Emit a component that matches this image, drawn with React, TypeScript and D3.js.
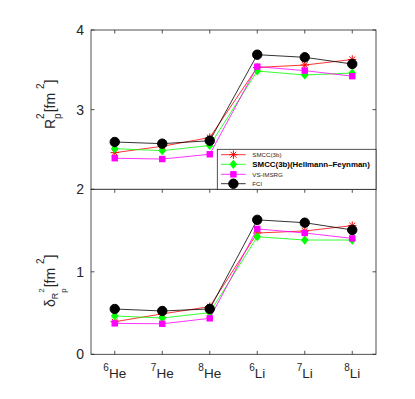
import React, { useEffect, useRef } from 'react';
import * as d3 from 'd3';

// nuclei on the x axis: mass number + element
const nuclei = [
  { a: '6', el: 'He' },
  { a: '7', el: 'He' },
  { a: '8', el: 'He' },
  { a: '6', el: 'Li' },
  { a: '7', el: 'Li' },
  { a: '8', el: 'Li' },
];

// top panel: R_p^2 [fm^2]
const rSmcc = [2.46, 2.54, 2.65, 3.53, 3.56, 3.63];
const rHF = [2.51, 2.485, 2.55, 3.485, 3.435, 3.46];
const rVs = [2.39, 2.38, 2.44, 3.54, 3.49, 3.42];
const rFci = [2.594, 2.573, 2.61, 3.69, 3.657, 3.573];

// bottom panel: delta R_p^2 [fm^2]
const dSmcc = [0.395, 0.49, 0.578, 1.47, 1.495, 1.56];
const dHF = [0.465, 0.44, 0.505, 1.425, 1.385, 1.385];
const dVs = [0.375, 0.37, 0.436, 1.52, 1.47, 1.405];
const dFci = [0.549, 0.525, 0.55, 1.63, 1.595, 1.507];

const topTicks = [3, 4];
const bottomTicks = [0, 1, 2];

const seriesNames = ['SMCC(3b)', 'SMCC(3b)(Hellmann\u2013Feynman)', 'VS-IMSRG', 'FCI'];
const seriesColors = ['#ff0000', '#00ff00', '#ff00ff', '#000000'];
const seriesMarkers = ['star', 'diamond', 'square', 'circle'];

const AXIS = '#262626';

function drawMarker(g: any, kind: string, x: number, y: number, color: string) {
  if (kind === 'circle') {
    g.append('circle').attr('cx', x).attr('cy', y).attr('r', 4.7).attr('fill', color).attr('stroke', color);
  } else if (kind === 'square') {
    g.append('rect').attr('x', x - 3.2).attr('y', y - 3.2).attr('width', 6.4).attr('height', 6.4).attr('fill', color);
  } else if (kind === 'diamond') {
    g.append('path')
      .attr('d', `M${x},${y - 4.6}L${x + 3.8},${y}L${x},${y + 4.6}L${x - 3.8},${y}Z`)
      .attr('fill', color);
  } else {
    const r = 4.2;
    const q = r * 0.707;
    g.append('path')
      .attr('d', `M${x - r},${y}L${x + r},${y}M${x},${y - r}L${x},${y + r}M${x - q},${y - q}L${x + q},${y + q}M${x - q},${y + q}L${x + q},${y - q}`)
      .attr('stroke', color)
      .attr('stroke-width', 1)
      .attr('fill', 'none');
  }
}

class Chart extends React.Component {
  svgRef = React.createRef<SVGSVGElement>();

  componentDidMount() {
    this.renderChart();
  }

  renderChart = () => {
    const svg = d3.select(this.svgRef.current);
    svg.selectAll('*').remove();

    const left = 91;
    const right = 376;
    const topY0 = 30;
    const midY = 189.3;
    const botY1 = 354.3;

    const x = d3.scaleLinear().domain([0.5, 6.5]).range([left, right]);
    const yTop = d3.scaleLinear().domain([2, 4]).range([midY, topY0]);
    const yBot = d3.scaleLinear().domain([0, 2]).range([botY1, midY]);

    const panels = [
      { y: yTop, data: [rSmcc, rHF, rVs, rFci], ticks: topTicks, y0: topY0, y1: midY, xTicksTop: true, xTicksBottom: false },
      { y: yBot, data: [dSmcc, dHF, dVs, dFci], ticks: bottomTicks, y0: midY, y1: botY1, xTicksTop: true, xTicksBottom: true },
    ];

    const font = 'Liberation Sans, Arial, Helvetica, sans-serif';

    panels.forEach((p) => {
      const g = svg.append('g');
      g.append('rect')
        .attr('x', left).attr('y', p.y0)
        .attr('width', right - left).attr('height', p.y1 - p.y0)
        .attr('fill', 'white').attr('stroke', AXIS).attr('stroke-width', 0.8);

      // y ticks, inward both sides
      p.ticks.forEach((t) => {
        const yy = p.y(t);
        g.append('line').attr('x1', left).attr('x2', left + 3.5).attr('y1', yy).attr('y2', yy).attr('stroke', AXIS).attr('stroke-width', 0.8);
        g.append('line').attr('x1', right).attr('x2', right - 3.5).attr('y1', yy).attr('y2', yy).attr('stroke', AXIS).attr('stroke-width', 0.8);
        g.append('text')
          .attr('x', 84).attr('y', yy).attr('dy', '0.37em')
          .attr('text-anchor', 'end')
          .attr('font-family', font).attr('font-size', 14).attr('fill', AXIS)
          .text(t);
      });

      // x ticks
      nuclei.forEach((_, i) => {
        const xx = x(i + 1);
        if (p.xTicksTop) g.append('line').attr('x1', xx).attr('x2', xx).attr('y1', p.y0).attr('y2', p.y0 + 3.5).attr('stroke', AXIS).attr('stroke-width', 0.8);
        if (p.xTicksBottom) g.append('line').attr('x1', xx).attr('x2', xx).attr('y1', p.y1).attr('y2', p.y1 - 3.5).attr('stroke', AXIS).attr('stroke-width', 0.8);
      });

      // series
      p.data.forEach((vals, si) => {
        const line = d3.line<number>().x((_, i) => x(i + 1)).y((v) => p.y(v));
        g.append('path').datum(vals).attr('d', line).attr('fill', 'none').attr('stroke', seriesColors[si]).attr('stroke-width', 0.8);
        vals.forEach((v, i) => drawMarker(g, seriesMarkers[si], x(i + 1), p.y(v), seriesColors[si]));
      });
    });

    // x tick labels with superscript mass numbers
    nuclei.forEach((n, i) => {
      const t = svg.append('text')
        .attr('x', x(i + 1)).attr('y', 377.5)
        .attr('text-anchor', 'middle')
        .attr('font-family', font).attr('fill', AXIS);
      t.append('tspan').attr('font-size', 10).attr('dy', -7).text(n.a);
      t.append('tspan').attr('font-size', 13.5).attr('dy', 7).text(n.el);
    });

    // y labels
    const yl1 = svg.append('text')
      .attr('transform', 'translate(55,129) rotate(-90)')
      .attr('font-family', font).attr('font-size', 14).attr('fill', AXIS);
    yl1.append('tspan').text('R');
    yl1.append('tspan').attr('font-size', 10).attr('dy', -11).text('2');
    yl1.append('tspan').attr('font-size', 10).attr('dx', -5.6).attr('dy', 17).text('p');
    yl1.append('tspan').attr('dy', -6).attr('dx', 1).text('[fm ');
    yl1.append('tspan').attr('font-size', 10).attr('dy', -11).text('2');
    yl1.append('tspan').attr('dy', 11).text(']');

    const yl2 = svg.append('text')
      .attr('transform', 'translate(55,307) rotate(-90)')
      .attr('font-family', font).attr('font-size', 14).attr('fill', AXIS);
    yl2.append('tspan').text('\u03b4');
    yl2.append('tspan').attr('font-size', 9).attr('dy', 3).text('R');
    yl2.append('tspan').attr('font-size', 8).attr('dy', -14).text('2');
    yl2.append('tspan').attr('font-size', 8).attr('dx', -4.5).attr('dy', 22).text('p');
    yl2.append('tspan').attr('dy', -11).attr('dx', 1).text('[fm ');
    yl2.append('tspan').attr('font-size', 10).attr('dy', -11).text('2');
    yl2.append('tspan').attr('dy', 11).text(']');

    // legend
    const lg = svg.append('g');
    lg.append('rect')
      .attr('x', 217.3).attr('y', 149.3)
      .attr('width', right - 217.3).attr('height', midY - 149.3)
      .attr('fill', 'white').attr('stroke', AXIS).attr('stroke-width', 0.8);
    const rowY = [154.7, 164.3, 174.3, 183.7];
    seriesNames.forEach((name, si) => {
      const yy = rowY[si];
      lg.append('line').attr('x1', 221).attr('x2', 245.7).attr('y1', yy).attr('y2', yy).attr('stroke', seriesColors[si]).attr('stroke-width', 0.8);
      drawMarker(lg, seriesMarkers[si], 233.4, yy, seriesColors[si]);
      const bold = si === 1;
      lg.append('text')
        .attr('x', 252.3).attr('y', yy).attr('dy', '0.36em')
        .attr('font-family', font)
        .attr('font-size', bold ? 7.9 : 6.2)
        .attr('font-weight', bold ? 'bold' : 'normal')
        .attr('fill', bold ? '#000' : AXIS)
        .text(name);
    });
  };

  render() {
    return (
      <svg
        ref={this.svgRef}
        width={415}
        height={399}
        style={{ position: 'absolute', left: 0, top: 0, background: 'white' }}
      ></svg>
    );
  }
}

export default function App() {
  return <Chart />;
}
